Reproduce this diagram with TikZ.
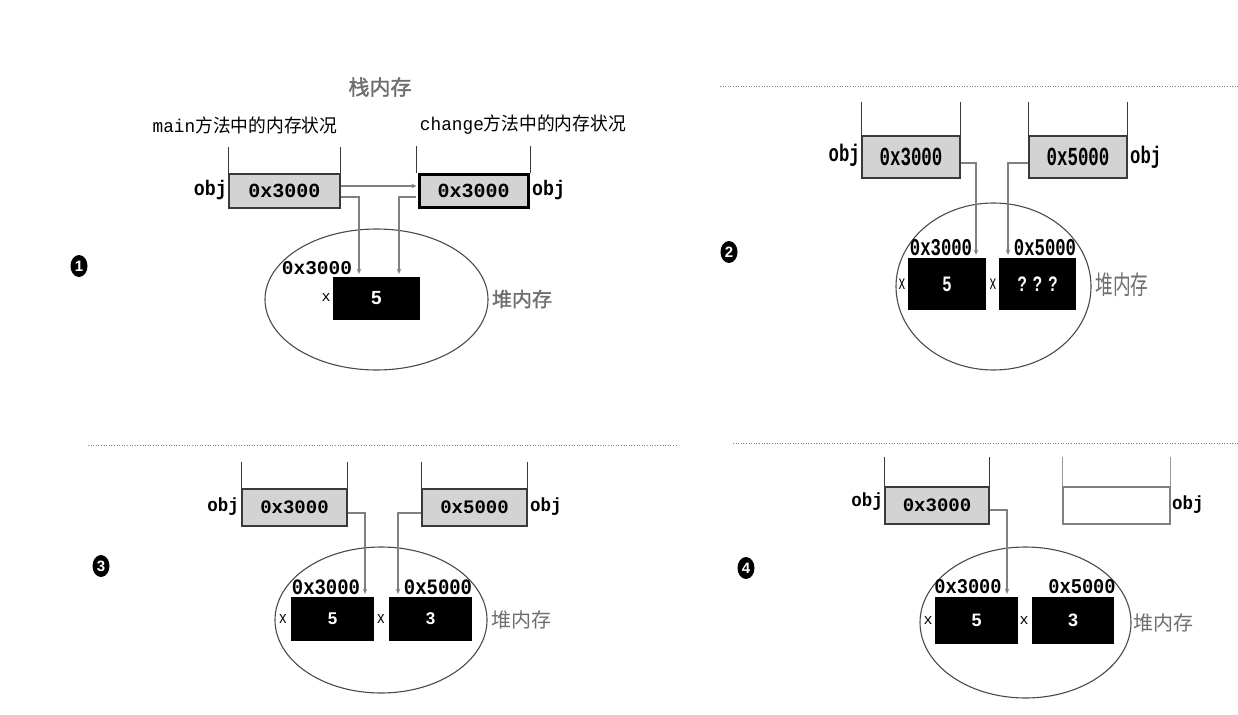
\documentclass[tikz,border=0pt]{standalone}
\usepackage{fontspec}
\setmainfont{Liberation Sans}
\newfontfamily\cjk{Noto Sans CJK SC}
\newfontfamily\cjkb{Noto Sans CJK SC}[FakeBold=1.5]
\newfontfamily\mono{Liberation Mono}
\usetikzlibrary{arrows.meta,shapes.geometric}
\definecolor{boxgray}{HTML}{D3D3D3}
\definecolor{linegray}{HTML}{808080}
\definecolor{wallgray}{HTML}{3A3A3A}
\definecolor{titlegray}{HTML}{6E6E6E}
\definecolor{ellgray}{HTML}{4A4A4A}
\newcommand\mfont[2]{\mono\bfseries\fontsize{#1}{#1}\selectfont\addfontfeature{FakeStretch=#2}}
\newcommand\mfontr[2]{\mono\fontsize{#1}{#1}\selectfont\addfontfeature{FakeStretch=#2}}
\tikzset{
  stackbox/.style={draw=wallgray, line width=1.2pt, fill=boxgray, inner sep=0pt},
  wall/.style={draw=wallgray, line width=1.2pt},
  heapbox/.style={fill=black, text=white, inner sep=0pt},
  ptr/.style={draw=linegray, line width=1.3pt, -{Stealth[length=5pt,width=4.5pt]}},
  lbl/.style={inner sep=0pt},
  heapname/.style={text=titlegray, inner sep=0pt},
  heapell/.style={draw=ellgray, line width=1.1pt, ellipse, inner sep=0pt},
  num/.style={ellipse, fill=black, text=white, inner sep=0pt, minimum width=17pt, minimum height=22pt, font=\bfseries\fontsize{15}{15}\selectfont},
  sep/.style={draw=linegray, line width=1pt, dash pattern=on 1pt off 1.6pt},
}
\begin{document}
\begin{tikzpicture}[x=1pt, y=-1pt]
\useasboundingbox (0,0) rectangle (1238,714);

% ================= Panel 1 =================
\node[font=\cjkb\fontsize{21}{21}\selectfont, text=titlegray] (t1) at (380,87) {栈内存};
\node[lbl] (mainlbl) at (245,125) {\mfontr{18.5}{0.96}main\cjk\addfontfeature{FakeStretch=0.96}方法中的内存状况};
\node[lbl] (chglbl) at (523,125) {\mfontr{18.5}{0.96}change\cjk\addfontfeature{FakeStretch=0.96}方法中的内存状况};
\node[stackbox, font=\mfont{20}{1}, minimum width=111pt, minimum height=34pt] (L1) at (284.5,191) {0x3000};
\node[stackbox, font=\mfont{20}{1}, draw=black, line width=3pt, minimum width=109pt, minimum height=32pt] (R1) at (473.5,191) {0x3000};
\draw[wall] (L1.north west) -- ++(0,-26) (L1.north east) -- ++(0,-26);
\draw[wall] ([xshift=-1pt]R1.north west) -- ++(0,-27) ([xshift=1pt]R1.north east) -- ++(0,-27);
\node[lbl, font=\mfont{21}{0.87}, anchor=east] (o1l) at (227,190) {obj};
\node[lbl, font=\mfont{21}{0.87}, anchor=west] (o1r) at (532,190) {obj};
\node[heapell, minimum width=223pt, minimum height=141pt] (E1) at (376.5,299.5) {};
\node[heapbox, font=\bfseries\fontsize{19}{19}\selectfont, minimum width=87pt, minimum height=43pt] (H1) at (376.5,298.5) {5};
\draw[ptr] ([yshift=5pt]L1.east) -- ([yshift=5pt,xshift=-1pt]R1.west);
\draw[ptr] ([yshift=-6pt]L1.east) -| ([xshift=-17.5pt,yshift=3pt]H1.north);
\draw[ptr] ([yshift=-6pt,xshift=-1.5pt]R1.west) -| ([xshift=22.5pt,yshift=3pt]H1.north);
\node[lbl, font=\mfont{19.5}{1}] (a1) at (317,268) {0x3000};
\node[lbl, font=\mfontr{15}{1}] (x1) at (326,298) {x};
\node[heapname, font=\cjkb\fontsize{20}{20}\selectfont] (hn1) at (522,299) {堆内存};
\node[num] (n1) at (79,266) {1};

% ================= Panel 2 =================
\coordinate (s2a) at (720,87);
\coordinate (s2b) at (1238,87);
\draw[sep] (s2a) -- (s2b);
\node[stackbox, font=\mfont{26}{0.67}, minimum width=98pt, minimum height=42pt] (L2) at (911,157) {0x3000};
\node[stackbox, font=\mfont{26}{0.67}, minimum width=98pt, minimum height=42pt] (R2) at (1078,157) {0x5000};
\draw[wall] (L2.north west) -- ++(0,-33) (L2.north east) -- ++(0,-33);
\draw[wall] (R2.north west) -- ++(0,-33) (R2.north east) -- ++(0,-33);
\node[lbl, font=\mfont{24}{0.72}, anchor=east] (o2l) at (860,155) {obj};
\node[lbl, font=\mfont{24}{0.72}, anchor=west] (o2r) at (1130,157) {obj};
\node[heapell, minimum width=195pt, minimum height=167pt] (E2) at (993.5,286.5) {};
\node[heapbox, font=\bfseries\fontsize{21}{21}\selectfont\addfontfeature{FakeStretch=0.75}, minimum width=78pt, minimum height=52pt] (H2a) at (947,284) {5};
\node[heapbox, font=\bfseries\fontsize{21}{21}\selectfont\addfontfeature{FakeStretch=0.75}, minimum width=77pt, minimum height=52pt] (H2b) at (1037.5,284) {? ? ?};
\draw[ptr] ([yshift=-6pt]L2.east) -| ([xshift=29pt,yshift=3pt]H2a.north);
\draw[ptr] ([yshift=-6pt]R2.west) -| ([xshift=-29.5pt,yshift=3pt]H2b.north);
\node[lbl, font=\mfont{24}{0.72}] (a2a) at (941,248) {0x3000};
\node[lbl, font=\mfont{24}{0.72}] (a2b) at (1045,248) {0x5000};
\node[lbl, font=\mfontr{20}{0.6}] (x2a) at (902,284) {x};
\node[lbl, font=\mfontr{20}{0.6}] (x2b) at (993,284) {x};
\node[heapname, font=\cjk\fontsize{26}{26}\selectfont\addfontfeature{FakeStretch=0.68}] (hn2) at (1122,285) {堆内存};
\node[num] (n2) at (729,252) {2};

% ================= Panel 3 =================
\coordinate (s3a) at (88,445);
\coordinate (s3b) at (678,445);
\draw[sep] (s3a) -- (s3b);
\node[stackbox, font=\mfont{19}{1}, minimum width=105pt, minimum height=37pt] (L3) at (294.5,507.5) {0x3000};
\node[stackbox, font=\mfont{19}{1}, minimum width=105pt, minimum height=37pt] (R3) at (474.5,507.5) {0x5000};
\draw[wall] (L3.north west) -- ++(0,-26) (L3.north east) -- ++(0,-26);
\draw[wall] (R3.north west) -- ++(0,-26) (R3.north east) -- ++(0,-26);
\node[lbl, font=\mfont{19}{0.92}, anchor=east] (o3l) at (239,507) {obj};
\node[lbl, font=\mfont{19}{0.92}, anchor=west] (o3r) at (530,507) {obj};
\node[heapell, minimum width=212pt, minimum height=146pt] (E3) at (381,620) {};
\node[heapbox, font=\bfseries\fontsize{17}{17}\selectfont, minimum width=83pt, minimum height=44pt] (H3a) at (332.5,619) {5};
\node[heapbox, font=\bfseries\fontsize{17}{17}\selectfont, minimum width=83pt, minimum height=44pt] (H3b) at (430.5,619) {3};
\draw[ptr] ([yshift=-5.5pt]L3.east) -| ([xshift=32.5pt,yshift=3pt]H3a.north);
\draw[ptr] ([yshift=-5.5pt]R3.west) -| ([xshift=-32.5pt,yshift=3pt]H3b.north);
\node[lbl, font=\mfont{22}{0.86}] (a3a) at (326,587) {0x3000};
\node[lbl, font=\mfont{22}{0.86}] (a3b) at (438,587) {0x5000};
\node[lbl, font=\mfontr{17}{0.8}] (x3a) at (283,619) {x};
\node[lbl, font=\mfontr{17}{0.8}] (x3b) at (381,619) {x};
\node[heapname, font=\cjk\fontsize{20}{20}\selectfont] (hn3) at (521,620) {堆内存};
\node[num] (n3) at (101,566) {3};

% ================= Panel 4 =================
\coordinate (s4a) at (733,443);
\coordinate (s4b) at (1238,443);
\draw[sep] (s4a) -- (s4b);
\node[stackbox, font=\mfont{19}{1}, minimum width=104pt, minimum height=37pt] (L4) at (937,505.5) {0x3000};
\node[stackbox, draw=linegray, fill=white, minimum width=107pt, minimum height=37pt] (R4) at (1116.5,505.5) {};
\draw[wall] (L4.north west) -- ++(0,-29) (L4.north east) -- ++(0,-29);
\draw[wall, draw=linegray!80] (R4.north west) -- ++(0,-29) (R4.north east) -- ++(0,-29);
\node[lbl, font=\mfont{19}{0.92}, anchor=east] (o4l) at (883,502) {obj};
\node[lbl, font=\mfont{19}{0.92}, anchor=west] (o4r) at (1172,505) {obj};
\node[heapell, minimum width=211pt, minimum height=151pt] (E4) at (1025.5,622.5) {};
\node[heapbox, font=\bfseries\fontsize{18}{18}\selectfont, minimum width=83pt, minimum height=47pt] (H4a) at (976.5,620.5) {5};
\node[heapbox, font=\bfseries\fontsize{18}{18}\selectfont, minimum width=82pt, minimum height=47pt] (H4b) at (1073,620.5) {3};
\draw[ptr] ([yshift=-4.5pt]L4.east) -| ([xshift=30.5pt,yshift=3pt]H4a.north);
\node[lbl, font=\mfont{21}{0.89}] (a4a) at (968,587) {0x3000};
\node[lbl, font=\mfont{21}{0.89}] (a4b) at (1082,587) {0x5000};
\node[lbl, font=\mfontr{15}{1}] (x4a) at (928,621) {x};
\node[lbl, font=\mfontr{15}{1}] (x4b) at (1024,621) {x};
\node[heapname, font=\cjk\fontsize{20}{20}\selectfont] (hn4) at (1163,623) {堆内存};
\node[num] (n4) at (746,568) {4};
\end{tikzpicture}
\end{document}
